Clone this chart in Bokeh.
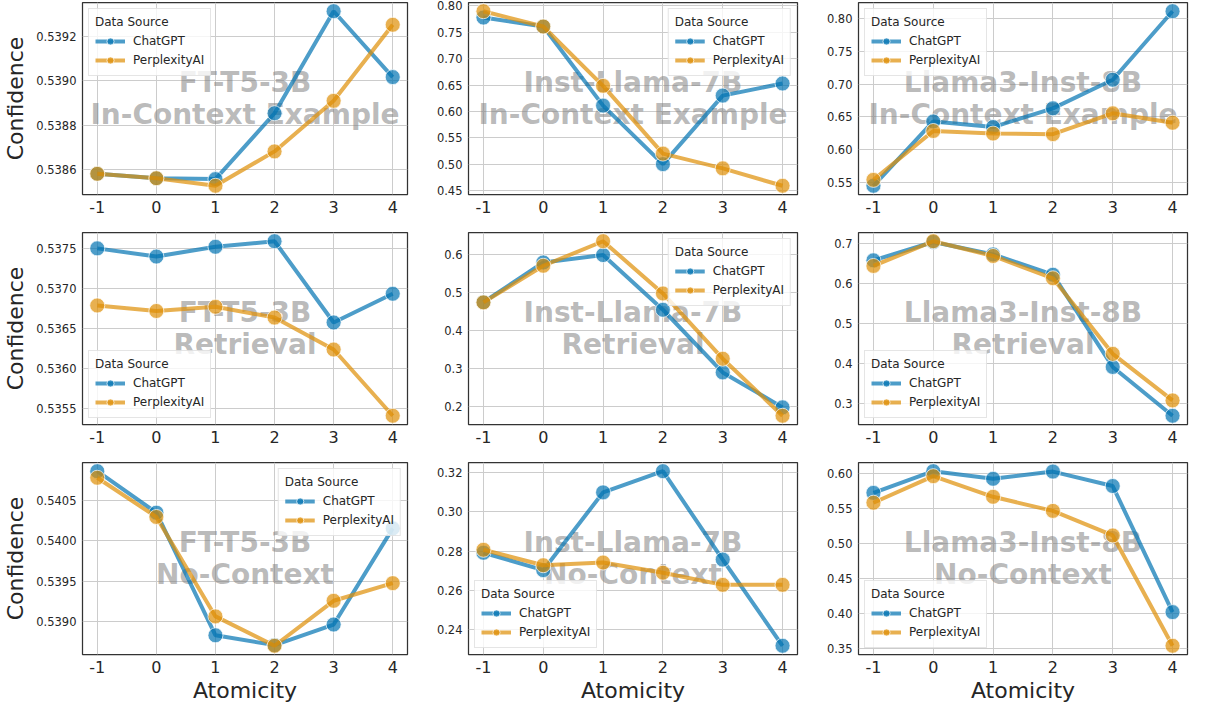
from bokeh.plotting import figure
from bokeh.models import Range1d, FixedTicker, PrintfTickFormatter, Label, Legend, LegendItem
from bokeh.layouts import column, row
from bokeh.embed import file_html
from bokeh.resources import INLINE

atomicity = [-1, 0, 1, 2, 3, 4]
atomicity_labels = ["-1", "0", "1", "2", "3", "4"]
sources = ["ChatGPT", "PerplexityAI"]
models = ["FT-T5-3B", "Inst-Llama-7B", "Llama3-Inst-8B"]
settings = ["In-Context Example", "Retrieval", "No-Context"]

# In-Context Example
ft_incontext_chatgpt = [0.53858, 0.53856, 0.538556, 0.538853, 0.539313, 0.539016]
ft_incontext_perplexity = [0.53858, 0.53856, 0.538526, 0.538681, 0.538909, 0.539252]
instllama_incontext_chatgpt = [0.778, 0.761, 0.611, 0.500, 0.630, 0.653]
instllama_incontext_perplexity = [0.790, 0.761, 0.6485, 0.520, 0.492, 0.459]
llama3_incontext_chatgpt = [0.545, 0.643, 0.6345, 0.663, 0.7066, 0.811]
llama3_incontext_perplexity = [0.554, 0.6285, 0.6246, 0.6237, 0.6554, 0.641]

# Retrieval
ft_retrieval_chatgpt = [0.53750, 0.537398, 0.53752, 0.537589, 0.536577, 0.536935]
ft_retrieval_perplexity = [0.536789, 0.53672, 0.536773, 0.536638, 0.53624, 0.535415]
instllama_retrieval_chatgpt = [0.4744, 0.5786, 0.598, 0.4547, 0.2906, 0.199]
instllama_retrieval_perplexity = [0.474, 0.570, 0.6342, 0.4974, 0.3265, 0.177]
llama3_retrieval_chatgpt = [0.658, 0.704, 0.673, 0.622, 0.3905, 0.268]
llama3_retrieval_perplexity = [0.644, 0.706, 0.669, 0.613, 0.4235, 0.3066]

# No-Context
ft_nocontext_chatgpt = [0.540865, 0.54035, 0.538826, 0.538704, 0.53896, 0.540155]
ft_nocontext_perplexity = [0.540784, 0.540297, 0.539061, 0.538696, 0.539255, 0.539474]
instllama_nocontext_chatgpt = [0.2792, 0.2703, 0.310, 0.3208, 0.2757, 0.2317]
instllama_nocontext_perplexity = [0.2807, 0.2728, 0.2742, 0.269, 0.2628, 0.2628]
llama3_nocontext_chatgpt = [0.5728, 0.6038, 0.593, 0.6033, 0.5826, 0.402]
llama3_nocontext_perplexity = [0.5587, 0.5967, 0.5672, 0.547, 0.5118, 0.3538]

# y tick labels per panel
ticks_ft_incontext = [0.5386, 0.5388, 0.5390, 0.5392]
ticks_instllama_incontext = [0.45, 0.50, 0.55, 0.60, 0.65, 0.70, 0.75, 0.80]
ticks_llama3_incontext = [0.55, 0.60, 0.65, 0.70, 0.75, 0.80]
ticks_ft_retrieval = [0.5355, 0.5360, 0.5365, 0.5370, 0.5375]
ticks_instllama_retrieval = [0.2, 0.3, 0.4, 0.5, 0.6]
ticks_llama3_retrieval = [0.3, 0.4, 0.5, 0.6, 0.7]
ticks_ft_nocontext = [0.5390, 0.5395, 0.5400, 0.5405]
ticks_instllama_nocontext = [0.24, 0.26, 0.28, 0.30, 0.32]
ticks_llama3_nocontext = [0.35, 0.40, 0.45, 0.50, 0.55, 0.60]

panels = [
    [(ft_incontext_chatgpt, ft_incontext_perplexity, ticks_ft_incontext, "%.4f", "top_left"),
     (instllama_incontext_chatgpt, instllama_incontext_perplexity, ticks_instllama_incontext, "%.2f", "top_right"),
     (llama3_incontext_chatgpt, llama3_incontext_perplexity, ticks_llama3_incontext, "%.2f", "top_left")],
    [(ft_retrieval_chatgpt, ft_retrieval_perplexity, ticks_ft_retrieval, "%.4f", "bottom_left"),
     (instllama_retrieval_chatgpt, instllama_retrieval_perplexity, ticks_instllama_retrieval, "%.1f", "top_right"),
     (llama3_retrieval_chatgpt, llama3_retrieval_perplexity, ticks_llama3_retrieval, "%.1f", "bottom_left")],
    [(ft_nocontext_chatgpt, ft_nocontext_perplexity, ticks_ft_nocontext, "%.4f", "top_right"),
     (instllama_nocontext_chatgpt, instllama_nocontext_perplexity, ticks_instllama_nocontext, "%.2f", "bottom_left"),
     (llama3_nocontext_chatgpt, llama3_nocontext_perplexity, ticks_llama3_nocontext, "%.2f", "bottom_left")],
]

colors = ["#0173b2", "#de8f05"]
FONT = "DejaVu Sans"
TEXT_COLOR = "#262626"
FW = 329
FH = 192

rows = []
for i in range(3):
    figs = []
    for j in range(3):
        s1, s2, ticks, fmt, legloc = panels[i][j]
        allv = s1 + s2
        lo, hi = min(allv), max(allv)
        pad = 0.05 * (hi - lo)
        ylo, yhi = lo - pad, hi + pad
        left = 78 if j == 0 else 59
        bottom = 54 if i == 2 else 36
        p = figure(width=left + FW + 2, height=2 + FH + bottom,
                   x_range=Range1d(-1.25, 4.25), y_range=Range1d(ylo, yhi),
                   output_backend="svg", toolbar_location=None,
                   min_border_left=left, min_border_right=2,
                   min_border_top=2, min_border_bottom=bottom)
        p.background_fill_color = "white"
        p.outline_line_color = "#333333"
        p.outline_line_width = 1.25
        p.grid.grid_line_color = "#cccccc"
        p.grid.grid_line_width = 1

        p.xaxis.ticker = FixedTicker(ticks=atomicity)
        p.xaxis.major_label_overrides = {a: l for a, l in zip(atomicity, atomicity_labels)}
        p.yaxis.ticker = FixedTicker(ticks=ticks)
        p.yaxis.formatter = PrintfTickFormatter(format=fmt)
        for ax in (p.xaxis[0], p.yaxis[0]):
            ax.axis_line_color = None
            ax.major_tick_line_color = None
            ax.minor_tick_line_color = None
            ax.major_tick_out = 0
            ax.major_tick_in = 0
            ax.minor_tick_out = 0
            ax.major_label_text_font = FONT
            ax.major_label_text_color = TEXT_COLOR
            ax.axis_label_text_font = FONT
            ax.axis_label_text_color = TEXT_COLOR
            ax.axis_label_text_font_style = "normal"
            ax.axis_label_text_font_size = "22px"
        p.xaxis.major_label_text_font_size = "16px"
        p.yaxis.major_label_text_font_size = "11.5px"
        p.xaxis.major_label_standoff = 6
        p.yaxis.major_label_standoff = 6
        p.xaxis.axis_label_standoff = 2
        p.yaxis.axis_label_standoff = 5
        if j == 0:
            p.yaxis.axis_label = "Confidence"
        if i == 2:
            p.xaxis.axis_label = "Atomicity"

        span = yhi - ylo
        for k, txt in enumerate([models[j], settings[i]]):
            lab = Label(x=1.5, y=ylo + (0.583 - 0.166 * k) * span, text=txt,
                        text_align="center", text_baseline="middle",
                        text_font=FONT, text_font_style="bold", text_font_size="28px",
                        text_color="#808080", text_alpha=0.55, level="underlay")
            p.add_layout(lab)

        items = []
        for s, c, name in ((s1, colors[0], sources[0]), (s2, colors[1], sources[1])):
            ln = p.line(atomicity, s, line_color=c, line_width=4, line_alpha=0.7)
            sc = p.scatter(atomicity, s, size=15, fill_color=c, fill_alpha=0.7,
                           line_color="white", line_alpha=0.7, line_width=1)
            items.append(LegendItem(label=name, renderers=[ln, sc]))
        leg = Legend(items=items, location=legloc, title="Data Source",
                     title_text_font=FONT, title_text_font_size="12px",
                     title_text_font_style="normal", title_text_color=TEXT_COLOR,
                     label_text_font=FONT, label_text_font_size="12px",
                     label_text_color=TEXT_COLOR,
                     glyph_width=30, glyph_height=18, label_height=18,
                     spacing=1, padding=6, margin=6, label_standoff=8,
                     title_standoff=3,
                     border_line_color="#cccccc", border_line_width=1,
                     background_fill_color="white", background_fill_alpha=0.8)
        p.add_layout(leg)
        figs.append(p)
    rows.append(row(*figs))

layout = column(*rows)
open("out.html", "w").write(file_html(layout, INLINE))
